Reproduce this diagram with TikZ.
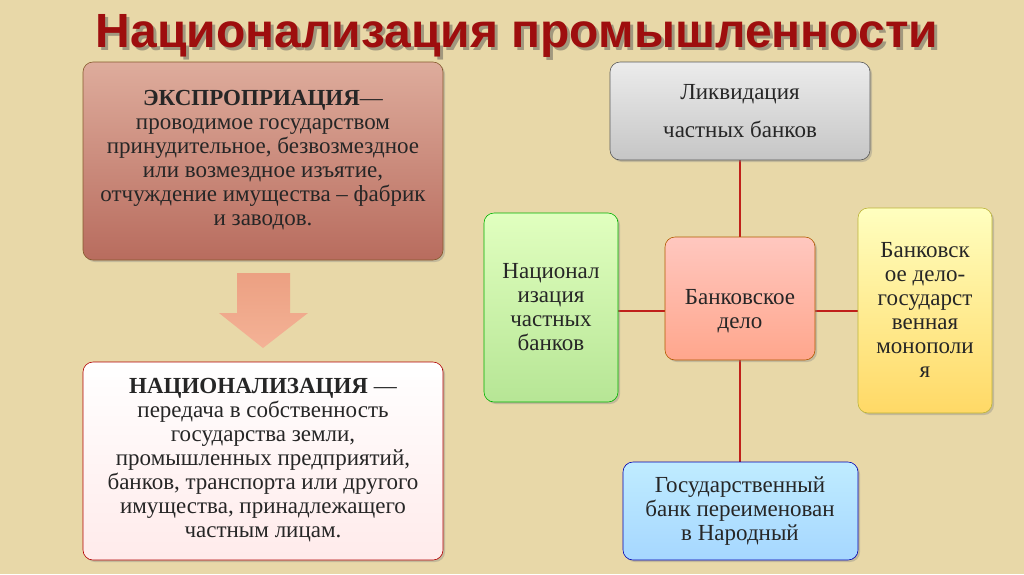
\documentclass[tikz,border=0pt]{standalone}
\usepackage{fontspec}
\setmainfont{Liberation Serif}
\newfontfamily\titlefont{Liberation Sans}
\usetikzlibrary{shadows}
\definecolor{bg}{HTML}{E8D8A8}
\definecolor{ttl}{HTML}{9E0E0E}
\definecolor{lnk}{HTML}{C0201A}
\tikzset{
 bx/.style={rounded corners=10pt, draw=#1!70!black, line width=0.6pt, drop shadow={opacity=0.35,shadow xshift=2pt,shadow yshift=-2pt}},
 txt/.style={align=center, font=\fontsize{23}{24}\selectfont, text=black!85},
 link/.style={draw=lnk, line width=2.4pt}
}
\begin{document}
\begin{tikzpicture}[x=1pt,y=-1pt]
\fill[bg] (0,0) rectangle (1024,574);
\useasboundingbox (0,0) rectangle (1024,574);
\node[font=\titlefont\bfseries\fontsize{48}{50}\selectfont, text=black!70, opacity=0.45] at (520,39) {Национализация промышленности};
\node[font=\titlefont\bfseries\fontsize{48}{50}\selectfont, text=ttl] (title) at (517,36) {Национализация промышленности};
% left top
\shade[bx=brown, top color={rgb,255:red,222;green,172;blue,156}, bottom color={rgb,255:red,184;green,108;blue,94}] (83,62) rectangle (443,260);
\node[txt] (expr) at (263,160) {\textbf{ЭКСПРОПРИАЦИЯ}—\\проводимое государством\\принудительное, безвозмездное\\или возмездное изъятие,\\отчуждение имущества – фабрик\\и заводов.};
% arrow
\shade[top color={rgb,255:red,236;green,160;blue,130}, bottom color={rgb,255:red,244;green,178;blue,150}] (237,273) -- (290,273) -- (290,313) -- (308,313) -- (263,348) -- (219,313) -- (237,313) -- cycle;
% left bottom
\shade[bx=red, top color=white, bottom color=red!8!white] (83,362) rectangle (443,560);
\node[txt] (nat) at (263,460) {\textbf{НАЦИОНАЛИЗАЦИЯ} —\\передача в собственность\\государства земли,\\промышленных предприятий,\\банков, транспорта или другого\\имущества, принадлежащего\\частным лицам.};
% links
\draw[link] (740,160) -- (740,462);
\draw[link] (618,311) -- (858,311);
% right boxes
\shade[bx=gray, top color=gray!15, bottom color=gray!45] (610,62) rectangle (870,160);
\node[txt, font=\fontsize{23}{38}\selectfont] (liq) at (740,111) {Ликвидация\\частных банков};
\shade[bx=green, top color=green!30!lime!25!white, bottom color=green!45!lime!35!white!90!black] (484,213) rectangle (618,402);
\node[txt] (nb) at (551,307) {Национал\\изация\\частных\\банков};
\shade[bx=orange, top color=orange!25!red!25!white, bottom color=orange!45!red!45!white] (665,237) rectangle (815,360);
\node[txt] (bd) at (740,311) {Банковское\\дело};
\shade[bx=yellow, top color=yellow!25!white, bottom color=orange!50!yellow!60!white] (858,208) rectangle (992,413);
\node[txt] (mono) at (925,310) {Банковск\\ое дело-\\государст\\венная\\монополи\\я};
\shade[bx=blue, top color=blue!30!cyan!25!white, bottom color=blue!45!cyan!35!white] (623,462) rectangle (858,560);
\node[txt] (gb) at (740,511) {Государственный\\банк переименован\\в Народный};
\end{tikzpicture}
\end{document}
